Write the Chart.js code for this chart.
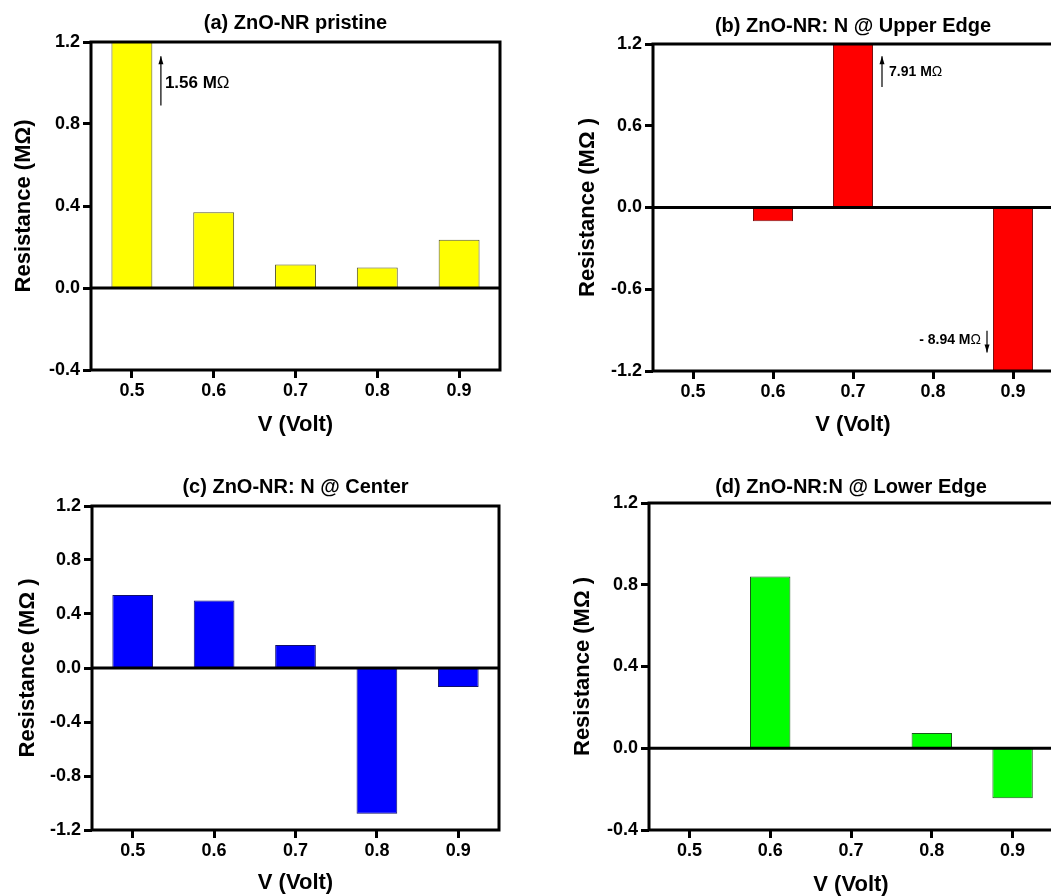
<!DOCTYPE html>
<html lang="en">
<head>
<meta charset="UTF-8">
<title>ZnO-NR resistance vs voltage</title>
<script src="https://cdn.jsdelivr.net/npm/chart.js"></script>
<style>
  html, body { margin: 0; padding: 0; background: #fff; overflow: hidden; }
  body { width: 1051px; height: 896px; position: relative; }
  canvas { position: absolute; }
</style>
</head>
<body>
<canvas id="pa" width="520" height="445" style="left:0;top:0"></canvas>
<canvas id="pb" width="540" height="445" style="left:520px;top:0"></canvas>
<canvas id="pc" width="520" height="451" style="left:0;top:445px"></canvas>
<canvas id="pd" width="540" height="451" style="left:520px;top:445px"></canvas>
<script>
// data (MOhm)
const voltages = ['0.5', '0.6', '0.7', '0.8', '0.9'];
const pristine  = [1.56, 0.37, 0.115, 0.10, 0.235];
const upperEdge = [0, -0.10, 7.91, 0, -8.94];
const centerN   = [0.54, 0.50, 0.17, -1.08, -0.14];
const lowerEdge = [0, 0.84, 0, 0.075, -0.245];

const ticksA = [1.2, 0.8, 0.4, 0.0, -0.4];
const ticksB = [1.2, 0.6, 0.0, -0.6, -1.2];
const ticksC = [1.2, 0.8, 0.4, 0.0, -0.4, -0.8, -1.2];
const ticksD = [1.2, 0.8, 0.4, 0.0, -0.4];

const FONT = "'Liberation Sans', Arial, sans-serif";

// frame, zero line, panel title and arrow notes
const framePlugin = {
  id: 'frame',
  afterDatasetsDraw(chart, args, opts) {
    const { ctx, chartArea: a, scales: { x, y } } = chart;
    ctx.save();
    ctx.strokeStyle = '#000';
    ctx.lineWidth = 3;
    const y0 = y.getPixelForValue(0);
    ctx.beginPath();
    ctx.moveTo(a.left, y0);
    ctx.lineTo(a.right, y0);
    ctx.stroke();
    ctx.strokeRect(a.left, a.top, a.right - a.left, a.bottom - a.top);

    // title centred over the plot
    ctx.fillStyle = '#000';
    ctx.font = 'bold 20px ' + FONT;
    ctx.textAlign = 'center';
    ctx.textBaseline = 'middle';
    ctx.fillText(opts.title, (a.left + a.right) / 2, opts.titleY);

    (opts.notes || []).forEach(n => {
      const ax = x.getPixelForValue(n.cat) + n.dx;
      const p0 = y.getPixelForValue(n.from), p1 = y.getPixelForValue(n.to);
      ctx.lineWidth = 1.2;
      ctx.beginPath();
      ctx.moveTo(ax, p0);
      ctx.lineTo(ax, p1);
      ctx.stroke();
      const dir = p1 < p0 ? 1 : -1;
      ctx.beginPath();
      ctx.moveTo(ax, p1);
      ctx.lineTo(ax - 2.5, p1 + dir * 8);
      ctx.lineTo(ax + 2.5, p1 + dir * 8);
      ctx.closePath();
      ctx.fill();

      const ty = y.getPixelForValue(n.ty);
      ctx.textBaseline = 'middle';
      ctx.font = 'bold ' + n.size + 'px ' + FONT;
      const main = n.text;
      const wMain = ctx.measureText(main).width;
      ctx.font = n.size + 'px ' + FONT;
      const wOm = ctx.measureText('\u03A9').width;
      let tx = ax + n.tdx;
      if (n.align === 'right') tx -= (wMain + wOm);
      ctx.textAlign = 'left';
      ctx.font = 'bold ' + n.size + 'px ' + FONT;
      ctx.fillText(main, tx, ty);
      ctx.font = n.size + 'px ' + FONT;
      ctx.fillText('\u03A9', tx + wMain, ty);
    });
    ctx.restore();
  }
};

function fmt(v) {
  return Math.abs(v) < 1e-9 ? '0.0' : v.toFixed(1);
}

function makePanel(id, cfg) {
  const canvas = document.getElementById(id);
  const W = canvas.width, H = canvas.height;
  new Chart(canvas, {
    type: 'bar',
    data: {
      labels: voltages,
      datasets: [{
        data: cfg.values,
        backgroundColor: cfg.color,
        borderColor: cfg.border,
        borderWidth: 1,
        borderSkipped: 'start',
        categoryPercentage: 1.0,
        barPercentage: 0.5
      }]
    },
    options: {
      responsive: false,
      animation: false,
      layout: { padding: { top: cfg.area.top, right: W - cfg.area.right, left: 0, bottom: 0 } },
      scales: {
        x: {
          type: 'category',
          offset: true,
          afterFit: s => { s.height = H - cfg.area.bottom; },
          grid: { offset: false, drawOnChartArea: false, drawTicks: true,
                  tickLength: 8, tickWidth: 3, tickColor: '#000' },
          border: { display: false },
          ticks: { color: '#000', padding: 2, font: { family: FONT, size: 18, weight: 'bold' } },
          title: { display: true, text: 'V (Volt)', color: '#000',
                   padding: { top: 0, bottom: cfg.xTitlePad },
                   font: { family: FONT, size: 22, weight: 'bold', lineHeight: 1 } }
        },
        y: {
          min: Math.min(...cfg.ticks),
          max: Math.max(...cfg.ticks),
          afterFit: s => { s.width = cfg.area.left; },
          afterBuildTicks: s => { s.ticks = cfg.ticks.map(v => ({ value: v })); },
          grid: { drawOnChartArea: false, drawTicks: true,
                  tickLength: 8, tickWidth: 3, tickColor: '#000' },
          border: { display: false },
          ticks: { color: '#000', padding: 3, callback: v => fmt(v),
                   font: { family: FONT, size: 18, weight: 'bold' } },
          title: { display: true, text: cfg.yTitle, color: '#000',
                   padding: { top: cfg.yTitlePad, bottom: 0 },
                   font: { family: FONT, size: 22, weight: 'bold', lineHeight: 1 } }
        }
      },
      plugins: {
        legend: { display: false },
        tooltip: { enabled: false },
        frame: { title: cfg.title, titleY: cfg.titleY, notes: cfg.notes }
      }
    },
    plugins: [framePlugin]
  });
}

makePanel('pa', {
  values: pristine, ticks: ticksA, color: '#ffff00', border: '#55552a',
  area: { left: 91, top: 42, right: 500, bottom: 370 },
  title: '(a) ZnO-NR pristine', titleY: 23,
  yTitle: 'Resistance (M\u03A9)', yTitlePad: 13, xTitlePad: 9,
  notes: [{ cat: 0, dx: 29, from: 0.89, to: 1.13, ty: 1.0, tdx: 4, text: '1.56 M', size: 17, align: 'left' }]
});

makePanel('pb', {
  values: upperEdge, ticks: ticksB, color: '#ff0000', border: '#7a1010',
  area: { left: 133, top: 44, right: 533, bottom: 371 },
  title: '(b) ZnO-NR: N @ Upper Edge', titleY: 26,
  yTitle: 'Resistance (M\u03A9 )', yTitlePad: 57, xTitlePad: 9,
  notes: [
    { cat: 2, dx: 29, from: 0.885, to: 1.11, ty: 0.99, tdx: 7, text: '7.91 M', size: 14, align: 'left' },
    { cat: 4, dx: -26, from: -0.905, to: -1.065, ty: -0.975, tdx: -6, text: '- 8.94 M', size: 14, align: 'right' }
  ]
});

makePanel('pc', {
  values: centerN, ticks: ticksC, color: '#0000ff', border: '#10106a',
  area: { left: 92, top: 61, right: 499, bottom: 385 },
  title: '(c) ZnO-NR: N @ Center', titleY: 42,
  yTitle: 'Resistance (M\u03A9 )', yTitlePad: 17, xTitlePad: 2
});

makePanel('pd', {
  values: lowerEdge, ticks: ticksD, color: '#00ff00', border: '#1a5a1a',
  area: { left: 129, top: 58, right: 533, bottom: 385 },
  title: '(d) ZnO-NR:N @ Lower Edge', titleY: 42,
  yTitle: 'Resistance (M\u03A9 )', yTitlePad: 52, xTitlePad: 0
});
</script>
</body>
</html>
